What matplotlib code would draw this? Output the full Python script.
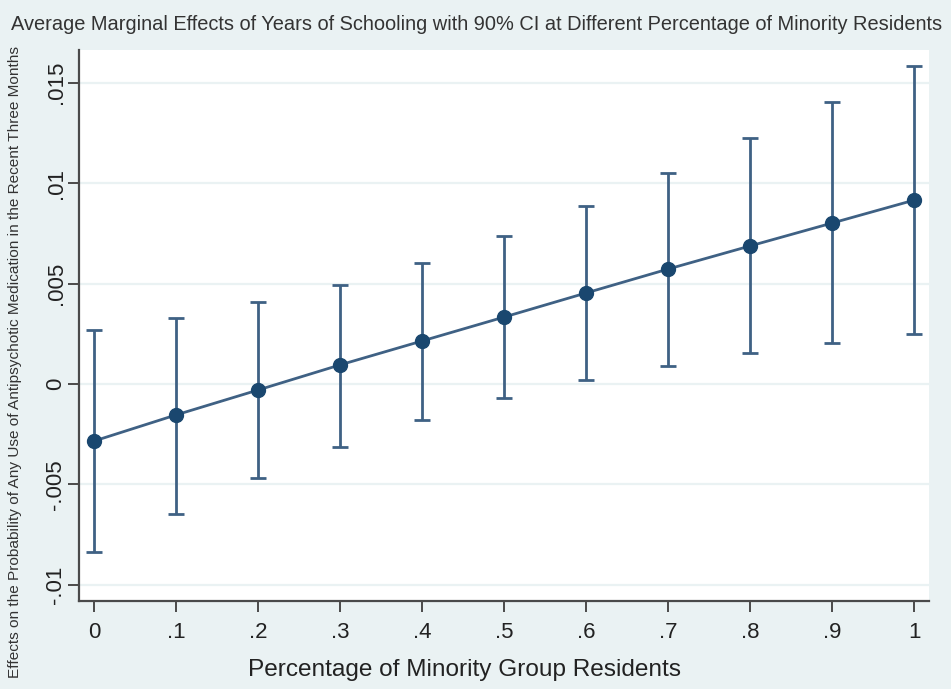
import matplotlib
matplotlib.use("Agg")
import matplotlib.pyplot as plt
from matplotlib.ticker import FixedLocator

plt.rcParams["font.family"] = ["Liberation Sans", "DejaVu Sans"]

# values
pct = [0.0, 0.1, 0.2, 0.3, 0.4, 0.5, 0.6, 0.7, 0.8, 0.9, 1.0]
ame = [-0.00284, -0.00154, -0.0003, 0.00095, 0.00214, 0.00333,
       0.00453, 0.00572, 0.00687, 0.00801, 0.00915]
ci_hi = [0.00269, 0.00328, 0.00408, 0.00493, 0.00602, 0.00736,
         0.00886, 0.0105, 0.01224, 0.01403, 0.01582]
ci_lo = [-0.00836, -0.00647, -0.00468, -0.00313, -0.00179, -0.0007,
         0.0002, 0.0009, 0.00154, 0.00204, 0.00249]

xticks = [0, 0.1, 0.2, 0.3, 0.4, 0.5, 0.6, 0.7, 0.8, 0.9, 1.0]
xlabels = ["0", ".1", ".2", ".3", ".4", ".5", ".6", ".7", ".8", ".9", "1"]
yticks = [-0.01, -0.005, 0, 0.005, 0.01, 0.015]
ylabels = ["-.01", "-.005", "0", ".005", ".01", ".015"]

BG = "#EAF2F3"
NAVY = "#1A476F"
LINE = "#3F6184"
AXIS = "#4a4a4a"

W, H = 951, 689
fig = plt.figure(figsize=(W / 100, H / 100), dpi=100, facecolor=BG)
ax = fig.add_axes([79 / W, 1 - 601 / H, (929 - 79) / W, (601 - 50) / H])
ax.set_facecolor("white")

for y in yticks:
    ax.axhline(y, color=BG, lw=1.6, zorder=0)

ax.errorbar(pct, ame, yerr=[[m - lo for m, lo in zip(ame, ci_lo)],
                            [hi - m for m, hi in zip(ame, ci_hi)]],
            fmt="none", ecolor=LINE, elinewidth=2.0, capsize=5.5, capthick=2.0, zorder=2)
ax.plot(pct, ame, color=LINE, lw=2.0, zorder=3)
ax.plot(pct, ame, "o", color=NAVY, ms=10, zorder=4)

ax.set_xlim(-0.0183, 1.018)
ax.set_ylim(-0.0108, 0.01662)
ax.xaxis.set_major_locator(FixedLocator(xticks))
ax.set_xticklabels(xlabels)
ax.yaxis.set_major_locator(FixedLocator(yticks))
ax.set_yticklabels(ylabels, rotation=90, va="center")

for s in ("top", "right"):
    ax.spines[s].set_visible(False)
for s in ("left", "bottom"):
    ax.spines[s].set_color(AXIS)
    ax.spines[s].set_linewidth(1.6)
ax.tick_params(axis="both", direction="out", length=8, width=1.4, color=AXIS,
               labelsize=16, labelcolor="#222222")
ax.tick_params(axis="x", pad=7)
ax.tick_params(axis="y", pad=1)

fig.text(465 / W, 1 - 670 / H, "Percentage of Minority Group Residents",
         ha="center", va="center", fontsize=17.6, color="#222222")
fig.text(15 / W, 1 - 362 / H,
         "Effects on the Probability of Any Use of Antipsychotic Medication in the Recent Three Months",
         rotation=90, ha="center", va="center", fontsize=11.1, color="#333333")
fig.text(477 / W, 1 - 25 / H,
         "Average Marginal Effects of Years of Schooling with 90% CI at Different Percentage of Minority Residents",
         ha="center", va="center", fontsize=14.4, color="#333333")

fig.savefig("out.png", dpi=100, facecolor=BG)
